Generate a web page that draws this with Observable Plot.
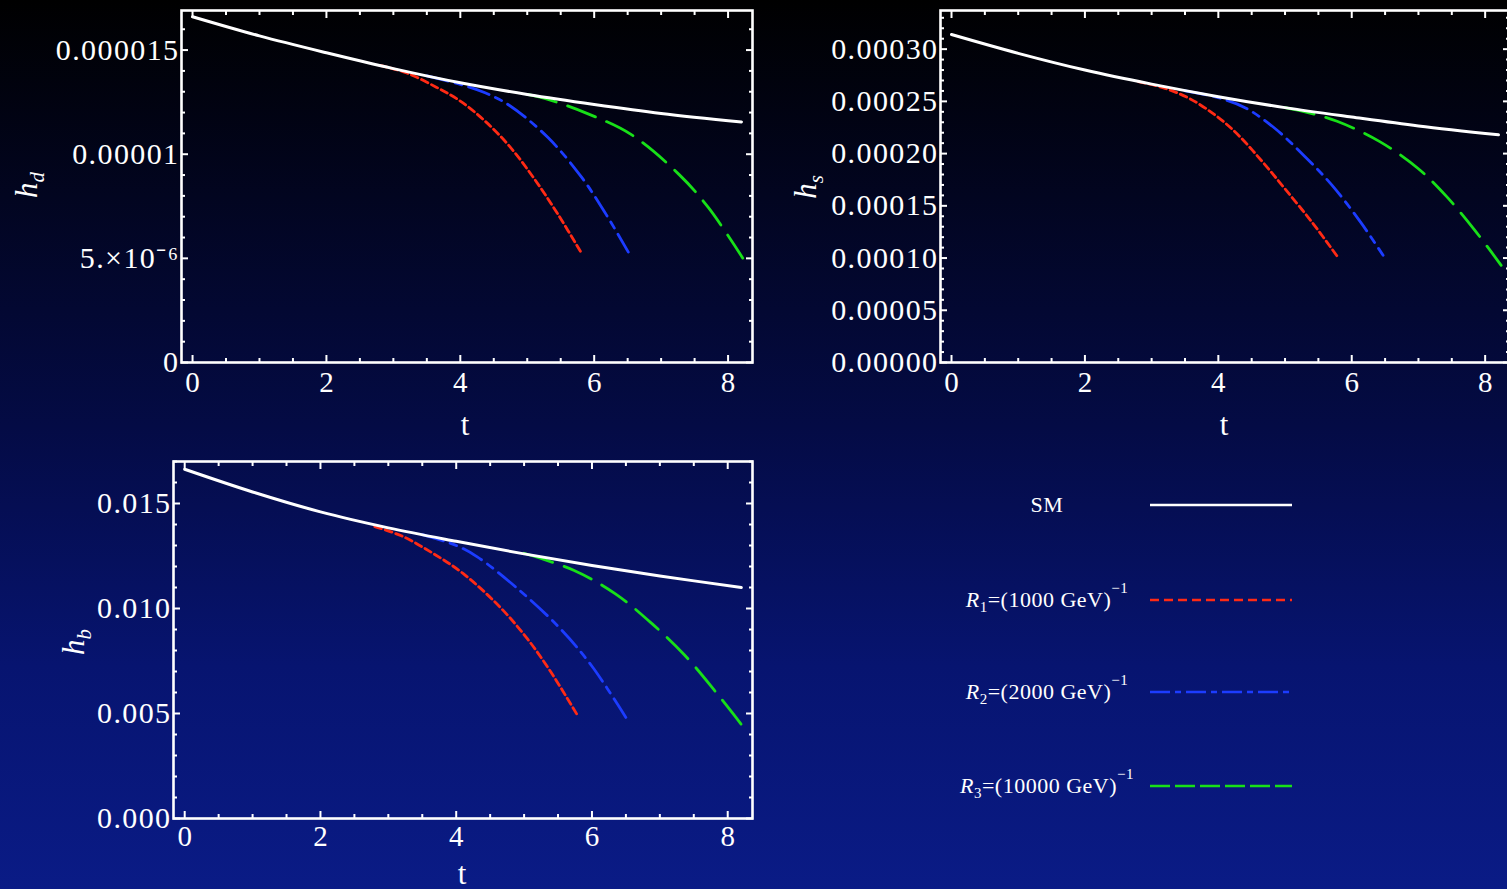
<!DOCTYPE html>
<html>
<head>
<meta charset="utf-8">
<script src="https://cdn.jsdelivr.net/npm/d3@7"></script>
<script src="https://cdn.jsdelivr.net/npm/@observablehq/plot@0.6"></script>
<style>
html, body { margin: 0; padding: 0; width: 1507px; height: 889px; overflow: hidden; }
body {
  position: relative;
  background: linear-gradient(to bottom, #000000 0%, #020520 22%, #040b45 48%, #071470 75%, #0a1b86 100%);
  font-family: "Liberation Serif", "Times New Roman", serif;
}
.panel { position: absolute; }
#legend { position: absolute; left: 0; top: 0; }
</style>
</head>
<body>
<div id="p1" class="panel"></div>
<div id="p2" class="panel"></div>
<div id="p3" class="panel"></div>
<svg id="legend" width="1507" height="889"></svg>
<script>
// ---------- data ----------
const xTicks = [0, 2, 4, 6, 8];
const xTickLabels = ["0", "2", "4", "6", "8"];

// h_d panel
const hdTicks = [0, 5e-6, 1e-5, 1.5e-5];
const hdTickLabels = ["0", "5.\u00d710\u207b\u2076", "0.00001", "0.000015"];
const tSM_d = [0, 1, 2, 3, 4, 5, 6, 7, 8.2];
const hdSM  = [1.660e-5, 1.568e-5, 1.487e-5, 1.411e-5, 1.343e-5, 1.287e-5, 1.239e-5, 1.196e-5, 1.155e-5];
const tR1_d = [2.8, 3.2, 3.64, 4.0, 4.37, 4.73, 5.09, 5.46, 5.81];
const hdR1  = [1.426e-5, 1.39e-5, 1.322e-5, 1.255e-5, 1.159e-5, 1.040e-5, 0.889e-5, 0.711e-5, 0.525e-5];
const tR2_d = [3.5, 4.0, 4.37, 4.73, 5.31, 5.82, 6.18, 6.51];
const hdR2  = [1.376e-5, 1.335e-5, 1.295e-5, 1.235e-5, 1.080e-5, 0.886e-5, 0.710e-5, 0.530e-5];
const tR3_d = [5.0, 5.31, 5.9, 6.55, 7.27, 7.71, 8.22];
const hdR3  = [1.287e-5, 1.263e-5, 1.195e-5, 1.095e-5, 0.902e-5, 0.742e-5, 0.501e-5];

// h_s panel
const hsTicks = [0, 5e-5, 1e-4, 1.5e-4, 2e-4, 2.5e-4, 3e-4];
const hsTickLabels = ["0.00000", "0.00005", "0.00010", "0.00015", "0.00020", "0.00025", "0.00030"];
const tSM_s = [0, 1, 2, 3, 4, 5, 6, 7, 8.2];
const hsSM  = [3.14e-4, 2.96e-4, 2.80e-4, 2.665e-4, 2.545e-4, 2.44e-4, 2.35e-4, 2.265e-4, 2.18e-4];
const tR1_s = [2.8, 3.2, 3.56, 3.95, 4.28, 4.65, 4.99, 5.42, 5.81];
const hsR1  = [2.69e-4, 2.625e-4, 2.53e-4, 2.37e-4, 2.19e-4, 1.93e-4, 1.67e-4, 1.33e-4, 0.993e-4];
const tR2_s = [3.5, 4.0, 4.4, 4.85, 5.3, 5.70, 6.13, 6.47];
const hsR2  = [2.60e-4, 2.535e-4, 2.44e-4, 2.24e-4, 1.97e-4, 1.70e-4, 1.346e-4, 1.026e-4];
const tR3_s = [5.0, 5.3, 5.78, 6.42, 6.99, 7.42, 7.84, 8.24];
const hsR3  = [2.44e-4, 2.40e-4, 2.31e-4, 2.115e-4, 1.86e-4, 1.59e-4, 1.27e-4, 0.93e-4];

// h_b panel
const hbTicks = [0, 0.005, 0.010, 0.015];
const hbTickLabels = ["0.000", "0.005", "0.010", "0.015"];
const tSM_b = [0, 1, 2, 3, 4, 5, 6, 7, 8.2];
const hbSM  = [0.01663, 0.01555, 0.01460, 0.01384, 0.01320, 0.01260, 0.01205, 0.01155, 0.01100];
const tR1_b = [2.8, 3.2, 3.63, 4.10, 4.65, 5.05, 5.39, 5.80];
const hbR1  = [0.01390, 0.01345, 0.01268, 0.01167, 0.01005, 0.00855, 0.00700, 0.00484];
const tR2_b = [3.5, 4.0, 4.31, 4.92, 5.53, 6.00, 6.51];
const hbR2  = [0.01352, 0.01300, 0.01246, 0.01090, 0.00905, 0.00725, 0.00476];
const tR3_b = [5.0, 5.73, 6.34, 6.88, 7.36, 7.83, 8.21];
const hbR3  = [0.01263, 0.01182, 0.01071, 0.00929, 0.00780, 0.00600, 0.00444];

const seriesNames = ["SM", "R1", "R2", "R3"];
const legendLabels = [
  [{t: "SM"}],
  [{t: "R", i: true}, {t: "1", sub: true}, {t: "=(1000 GeV)"}, {t: "\u22121", sup: true}],
  [{t: "R", i: true}, {t: "2", sub: true}, {t: "=(2000 GeV)"}, {t: "\u22121", sup: true}],
  [{t: "R", i: true}, {t: "3", sub: true}, {t: "=(10000 GeV)"}, {t: "\u22121", sup: true}]
];

// ---------- styles ----------
const styles = {
  SM: {stroke: "#ffffff", dash: null, legendDash: null},
  R1: {stroke: "#ff2a14", dash: "7,4", legendDash: "9,5"},
  R2: {stroke: "#1c3cff", dash: "22,7,7,7", legendDash: "20,5,6,5"},
  R3: {stroke: "#18e018", dash: "30,12", legendDash: "20,5"}
};
const xDomain = [-0.165, 8.365];
const FONT = "'Liberation Serif', 'Times New Roman', serif";

function rows(t, v) { return t.map((d, i) => ({t: d, v: v[i]})); }

function makePanel(cfg) {
  const {id, left, top, width, height, mL, mT, mR, mB, yDomain, yTicks, yLabels, yStep,
         series, xPadding, yLabelSub, yLabelPos, tLabelPos} = cfg;
  const el = document.getElementById(id);
  el.style.left = left + "px";
  el.style.top = top + "px";
  el.style.width = width + "px";
  el.style.height = height + "px";

  const xMinor = d3.range(1, 17).map(k => k * 0.5).filter(d => d % 2 !== 0 && d <= xDomain[1]);
  const nMinor = Math.floor(yDomain[1] / yStep + 1e-9);
  const yMinor = d3.range(1, nMinor + 1).filter(k => k % 5 !== 0).map(k => k * yStep);
  const yLabelMap = new Map(yTicks.map((d, i) => [d, yLabels[i]]));
  const xLabelMap = new Map(xTicks.map((d, i) => [d, xTickLabels[i]]));

  const tk = {stroke: "white", strokeWidth: 2, label: null, text: null, fill: "none"};
  const major = 7, minor = 4;

  const lineMarks = ["R1", "R2", "R3", "SM"].map(name => {
    const s = series[name];
    return Plot.line(rows(s.t, s.v), {
      x: "t", y: "v", stroke: styles[name].stroke, strokeWidth: name === "SM" ? 3 : 2.8,
      strokeDasharray: styles[name].dash, curve: "catmull-rom"
    });
  });

  const plot = Plot.plot({
    width, height,
    marginLeft: mL, marginTop: mT, marginRight: mR, marginBottom: mB,
    style: {background: "transparent", color: "white", fontFamily: FONT, overflow: "visible"},
    x: {domain: xDomain},
    y: {domain: yDomain},
    marks: [
      ...lineMarks,
      // inward frame ticks (all four sides)
      Plot.axisX(xTicks, {...tk, anchor: "bottom", tickSize: major, dy: -major}),
      Plot.axisX(xMinor, {...tk, anchor: "bottom", tickSize: minor, dy: -minor}),
      Plot.axisX(xTicks, {...tk, anchor: "top", tickSize: major, dy: major}),
      Plot.axisX(xMinor, {...tk, anchor: "top", tickSize: minor, dy: minor}),
      Plot.axisY(yTicks, {...tk, anchor: "left", tickSize: major, dx: major}),
      Plot.axisY(yMinor, {...tk, anchor: "left", tickSize: minor, dx: minor}),
      Plot.axisY(yTicks, {...tk, anchor: "right", tickSize: major, dx: -major}),
      Plot.axisY(yMinor, {...tk, anchor: "right", tickSize: minor, dx: -minor}),
      // tick labels
      Plot.axisX(xTicks, {anchor: "bottom", tickSize: 0, tickPadding: xPadding, label: null,
        fontSize: 29, fill: "white", tickFormat: d => xLabelMap.get(d)}),
      Plot.axisY(yTicks, {anchor: "left", tickSize: 0, tickPadding: 2, label: null,
        fontSize: 30, fill: "white", tickFormat: d => yLabelMap.get(d)}),
      Plot.frame({stroke: "white", strokeWidth: 2.6})
    ]
  });
  el.appendChild(plot);

  const svg = d3.select(plot);
  svg.selectAll("g[aria-label='y-axis tick label'] text").style("letter-spacing", "1.4px");
  // x label "t"
  svg.append("text")
    .attr("x", tLabelPos[0] - left).attr("y", tLabelPos[1] - top)
    .attr("text-anchor", "middle").attr("fill", "white")
    .style("font-family", FONT).style("font-size", "31px")
    .text("t");
  // y label h_sub (rotated)
  const yl = svg.append("text")
    .attr("transform", `translate(${yLabelPos[0] - left},${yLabelPos[1] - top}) rotate(-90)`)
    .attr("text-anchor", "middle").attr("fill", "white")
    .style("font-family", FONT).style("font-size", "31px").style("font-style", "italic");
  yl.append("tspan").text("h");
  yl.append("tspan").attr("dy", 7).style("font-size", "21px").text(yLabelSub);
}

makePanel({
  id: "p1", left: 0, top: 0, width: 760, height: 450, mL: 181, mT: 10, mR: 8, mB: 88,
  yDomain: [0, 1.69e-5], yTicks: hdTicks, yLabels: hdTickLabels, yStep: 1e-6,
  series: {SM: {t: tSM_d, v: hdSM}, R1: {t: tR1_d, v: hdR1}, R2: {t: tR2_d, v: hdR2}, R3: {t: tR3_d, v: hdR3}},
  xPadding: 9, yLabelSub: "d", yLabelPos: [37, 185], tLabelPos: [465, 435]
});
makePanel({
  id: "p2", left: 760, top: 0, width: 760, height: 450, mL: 180, mT: 10, mR: 11, mB: 88,
  yDomain: [0, 3.37e-4], yTicks: hsTicks, yLabels: hsTickLabels, yStep: 1e-5,
  series: {SM: {t: tSM_s, v: hsSM}, R1: {t: tR1_s, v: hsR1}, R2: {t: tR2_s, v: hsR2}, R3: {t: tR3_s, v: hsR3}},
  xPadding: 9, yLabelSub: "s", yLabelPos: [816, 187], tLabelPos: [1224, 435]
});
makePanel({
  id: "p3", left: 0, top: 450, width: 760, height: 439, mL: 173, mT: 11, mR: 8, mB: 71,
  yDomain: [0, 0.0170], yTicks: hbTicks, yLabels: hbTickLabels, yStep: 0.001,
  series: {SM: {t: tSM_b, v: hbSM}, R1: {t: tR1_b, v: hbR1}, R2: {t: tR2_b, v: hbR2}, R3: {t: tR3_b, v: hbR3}},
  xPadding: 7, yLabelSub: "b", yLabelPos: [84, 642], tLabelPos: [462, 884]
});

// ---------- legend ----------
const lg = d3.select("#legend");
const rowY = [505, 600, 692, 786];
seriesNames.forEach((name, i) => {
  const y = rowY[i];
  lg.append("line").attr("x1", 1150).attr("x2", 1292).attr("y1", y).attr("y2", y)
    .attr("stroke", styles[name].stroke).attr("stroke-width", 2.4)
    .attr("stroke-dasharray", styles[name].legendDash);
  const tx = lg.append("text").attr("x", 1047).attr("y", y + 7).attr("text-anchor", "middle")
    .attr("fill", "white").style("font-family", FONT).style("font-size", "22px")
    .style("letter-spacing", "0.5px");
  legendLabels[i].forEach(p => {
    const ts = tx.append("tspan").text(p.t);
    if (p.i) ts.style("font-style", "italic");
    if (p.sub) ts.attr("dy", 5).style("font-size", "15px");
    if (p.sup) ts.attr("dy", -14).style("font-size", "15px");
    if (!p.sub && !p.sup && tx.selectAll("tspan").size() > 1) ts.attr("dy", -5);
  });
});
</script>
</body>
</html>
